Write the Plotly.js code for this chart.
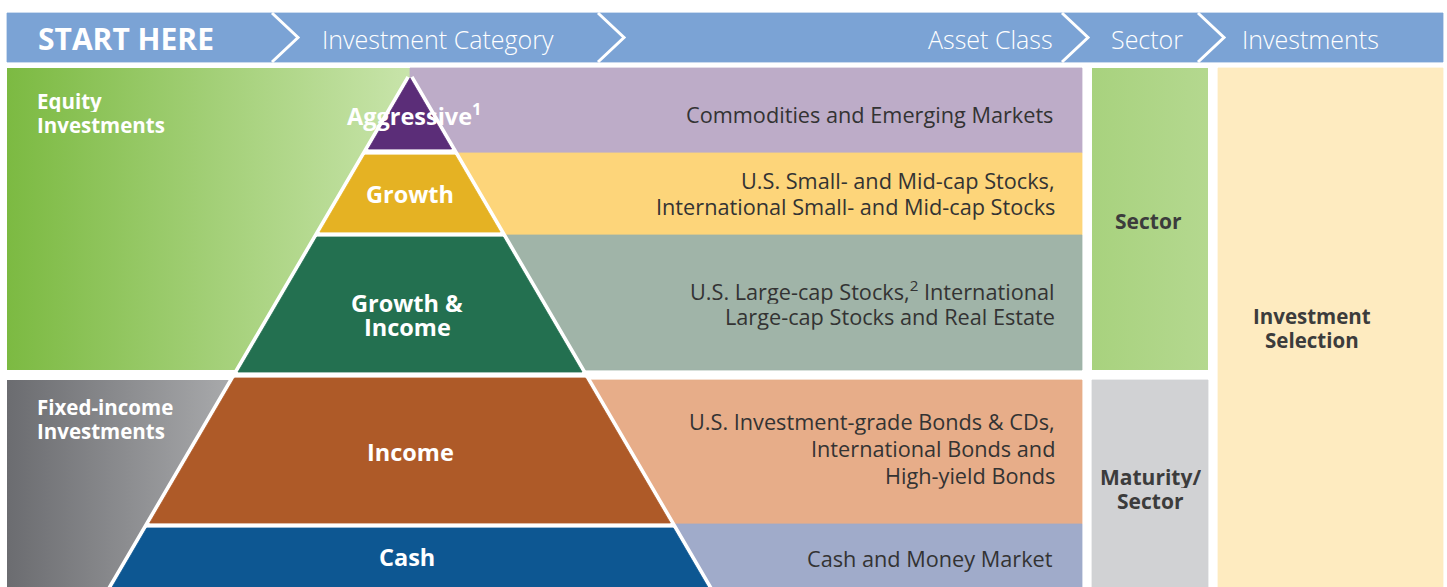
<!DOCTYPE html>
<html>
<head>
<meta charset="utf-8">
<script src="https://cdn.plot.ly/plotly-3.0.1.min.js"></script>
<style>
html,body{margin:0;padding:0;background:#fff;overflow:hidden;}
#chart{width:1447px;height:587px;}
</style>
</head>
<body>
<div id="chart"></div>
<script>
// ---------- DATA (labels / categories) ----------
const headerSteps = ['START HERE', 'Investment Category', 'Asset Class', 'Sector', 'Investments'];
const investmentGroups = ['Equity<br>Investments', 'Fixed-income<br>Investments'];
const categories = ['Aggressive<sup>1</sup>', 'Growth', 'Growth &<br>Income', 'Income', 'Cash'];
const assetClasses = [
  'Commodities and Emerging Markets',
  'U.S. Small- and Mid-cap Stocks,<br>International Small- and Mid-cap Stocks',
  'U.S. Large-cap Stocks,<sup>2</sup> International<br>Large-cap Stocks and Real Estate',
  'U.S. Investment-grade Bonds & CDs,<br>International Bonds and<br>High-yield Bonds',
  'Cash and Money Market'
];
const sectorLabels = ['Sector', 'Maturity/<br>Sector'];
const selectionLabel = 'Investment<br>Selection';

// ---------- STYLES ----------
const C = {
  header: '#7BA3D5',
  equityGrad: ['#7CBA42', '#C8E4AA'],
  fixedGrad: ['#6B6C70', '#ABACAE'],
  tier: ['#5B2D78', '#E5B223', '#237050', '#AE5A28', '#0D5792'],
  band: ['#BDACC8', '#FDD57A', '#A0B4A8', '#E7AD89', '#A0ABCA'],
  sectorGrad: ['#A8D27E', '#B4D88F'],
  maturity: '#D1D2D4',
  selection: '#FEEBC0',
  darkText: '#333333',
  labelText: '#3C3C3C'
};
const FONT = 'Open Sans, Noto Sans, sans-serif';

// ---------- LAYOUT GEOMETRY ----------
const W = 1447, H = 587;
const G = {
  header: {x0: 7, x1: 1443, y0: 13, y1: 62},
  chevronX: [272, 598, 1062, 1198], chevronDepth: 26,
  apexX: 410, apexY: 78, slope: 0.585,
  tierTop: [78, 155, 237, 378, 528],
  tierBot: [149, 232, 372, 523, 600],
  bandTop: [68, 153, 235, 380, 524],
  bandBot: [153, 235, 370, 524, 600],
  bandX1: 1082,
  groupTop: [68, 380], groupBot: [370, 600], groupX0: 7,
  sectorX: [1092, 1208], selX: [1218, 1443], selY: [68, 600]
};

const traces = [];
function poly(xs, ys, color, extra) {
  const t = {type: 'scatter', mode: 'lines', x: xs, y: ys, fill: 'toself',
    fillcolor: color, line: {width: 0.8, color: color}, hoverinfo: 'skip', showlegend: false};
  return Object.assign(t, extra || {});
}
function rect(x0, x1, y0, y1, color, grad) {
  const extra = {};
  if (grad) {
    extra.fillgradient = {type: 'horizontal', start: x0, stop: x1,
      colorscale: [[0, grad[0]], [1, grad[1]]]};
    extra.line = {width: 0, color: grad[1]};
  }
  return poly([x0, x1, x1, x0, x0], [y0, y0, y1, y1, y0], color, extra);
}
const halfW = y => G.slope * (y - G.apexY);

// header band
traces.push(rect(G.header.x0, G.header.x1, G.header.y0, G.header.y1, C.header));
G.chevronX.forEach(cx => {
  const ym = (G.header.y0 + G.header.y1) / 2;
  traces.push({type: 'scatter', mode: 'lines', x: [cx, cx + G.chevronDepth, cx],
    y: [G.header.y0, ym, G.header.y1], line: {color: '#fff', width: 3},
    hoverinfo: 'skip', showlegend: false});
});

// left group gradients
traces.push(rect(G.groupX0, G.apexX, G.groupTop[0], G.groupBot[0], C.equityGrad[0], C.equityGrad));
traces.push(rect(G.groupX0, 240, G.groupTop[1], G.groupBot[1], C.fixedGrad[0], C.fixedGrad));

// right asset-class bands
assetClasses.forEach((a, i) => {
  traces.push(rect(G.apexX, G.bandX1, G.bandTop[i], G.bandBot[i], C.band[i]));
});

// sector columns + selection column
traces.push(rect(G.sectorX[0], G.sectorX[1], G.groupTop[0], G.groupBot[0], C.sectorGrad[0], C.sectorGrad));
traces.push(rect(G.sectorX[0], G.sectorX[1], G.groupTop[1], G.groupBot[1], C.maturity));
traces.push(rect(G.selX[0], G.selX[1], G.selY[0], G.selY[1], C.selection));

// white pyramid outline
const baseY = 640;
traces.push(poly([G.apexX, G.apexX + halfW(baseY), G.apexX - halfW(baseY), G.apexX],
  [G.apexY, baseY, baseY, G.apexY], '#ffffff', {line: {color: '#ffffff', width: 8}}));

// pyramid tiers
categories.forEach((c, i) => {
  const t = G.tierTop[i], b = G.tierBot[i];
  traces.push(poly(
    [G.apexX - halfW(t), G.apexX + halfW(t), G.apexX + halfW(b), G.apexX - halfW(b), G.apexX - halfW(t)],
    [t, t, b, b, t], C.tier[i]));
});

// ---------- ANNOTATIONS ----------
const ann = [];
// each <br>-separated line is placed as its own annotation with a chosen line height
function A(text, x, y, xanchor, size, color, weight, lh) {
  const lines = text.split('<br>');
  const n = lines.length;
  lines.forEach((ln, i) => {
    const a = {text: ln, x: x, y: y + (i - (n - 1) / 2) * (lh || size * 1.3),
      xref: 'x', yref: 'y', xanchor: xanchor, yanchor: 'middle', valign: 'middle',
      showarrow: false, font: {family: FONT, size: size, color: color, weight: weight || 400}};
    if (n > 1) { a.height = lh - 1; a.borderpad = 0; a.borderwidth = 0; }
    ann.push(a);
  });
}
// header
const headerPos = [[36, 'left'], [320, 'left'], [1055, 'right'], [1109, 'left'], [1240, 'left']];
headerSteps.forEach((h, i) => {
  if (i === 0) A(h, headerPos[i][0], 38, headerPos[i][1], 30, '#ffffff', 700);
  else A(h, headerPos[i][0], 39, headerPos[i][1], 25, '#ffffff', 300);
});
// groups
A(investmentGroups[0], 37, 112, 'left', 20.5, '#ffffff', 700, 24);
A(investmentGroups[1], 37, 418, 'left', 20.5, '#ffffff', 700, 24);
// tiers
const tierLabelPos = [[414, 114], [410, 194], [407, 314], [410, 452], [407, 557]];
categories.forEach((c, i) => A(c, tierLabelPos[i][0], tierLabelPos[i][1], 'center', 23.5, '#ffffff', 700, 24));
// asset classes
const assetY = [114, 194, 304, 449, 558];
assetClasses.forEach((a, i) => A(a, 1055, assetY[i], 'right', 21.7, C.darkText, 400, 26.8));
// sector / selection
A(sectorLabels[0], 1148, 221, 'center', 21, C.labelText, 700, 24);
A(sectorLabels[1], 1150, 488, 'center', 21, C.labelText, 700, 24);
A(selectionLabel, 1312, 327, 'center', 20.5, C.labelText, 700, 24);

const layout = {
  width: W, height: H,
  margin: {l: 0, r: 0, t: 0, b: 0, pad: 0},
  paper_bgcolor: '#ffffff', plot_bgcolor: '#ffffff',
  xaxis: {range: [0, W], visible: false, fixedrange: true},
  yaxis: {range: [H, 0], visible: false, fixedrange: true},
  showlegend: false, hovermode: false,
  annotations: ann
};
Plotly.newPlot('chart', traces, layout, {staticPlot: true, displayModeBar: false});
</script>
</body>
</html>
